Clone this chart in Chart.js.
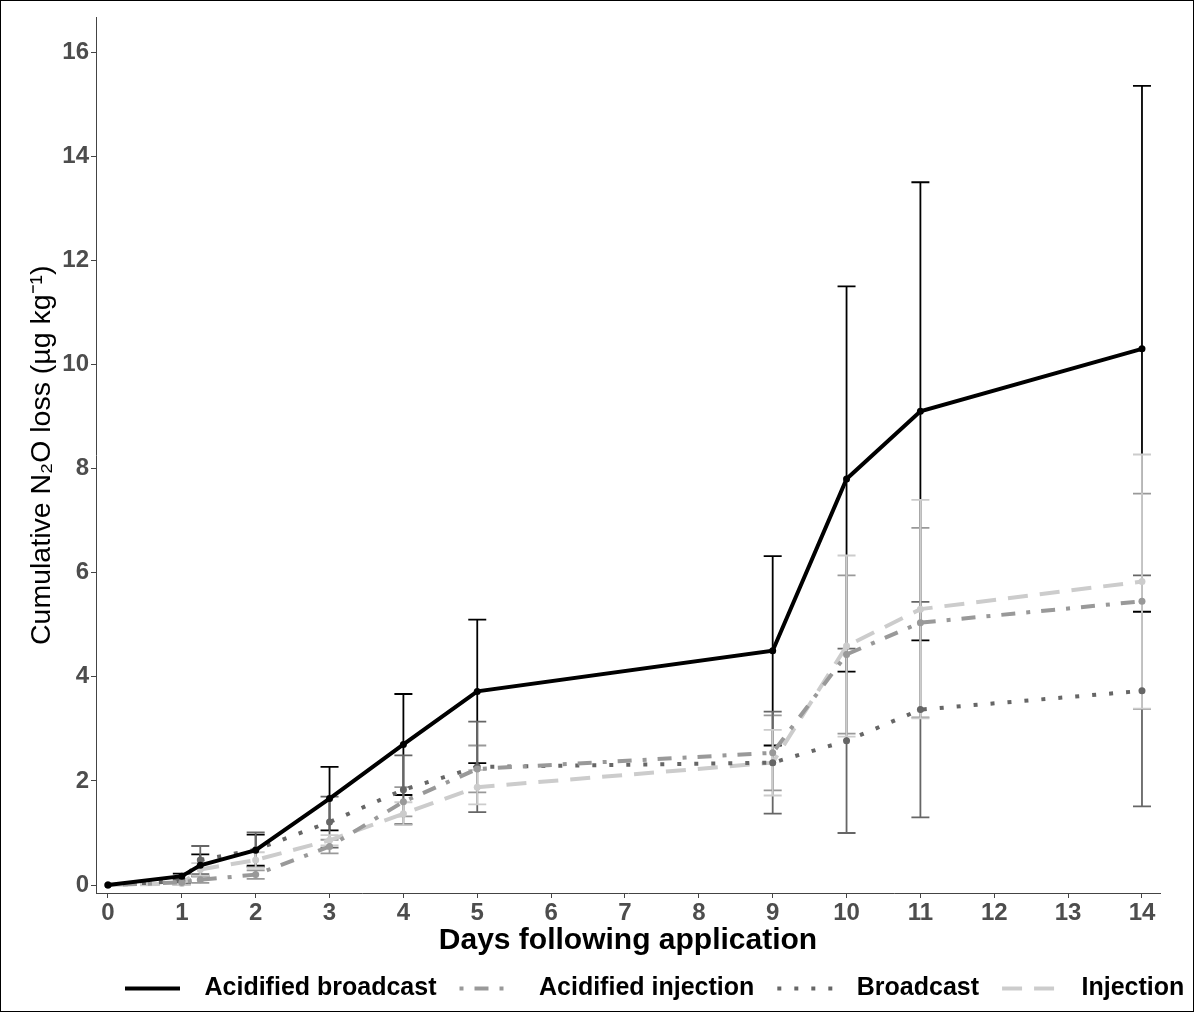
<!DOCTYPE html>
<html>
<head>
<meta charset="utf-8">
<script src="https://cdn.jsdelivr.net/npm/chart.js@4.4.1/dist/chart.umd.min.js"></script>
<style>
html,body{margin:0;padding:0;background:#fff;}
#wrap{width:1194px;height:1012px;box-sizing:border-box;border:1px solid #000;overflow:hidden;background:#fff;}
canvas{display:block;}
</style>
</head>
<body>
<div id="wrap"><canvas id="c" width="1192" height="1010"></canvas></div>
<script>
// ---------- data ----------
const days = [0, 1, 1.25, 2, 3, 4, 5, 9, 10, 11, 14];
const xTicks = [0, 1, 2, 3, 4, 5, 6, 7, 8, 9, 10, 11, 12, 13, 14];
const yTicks = [0, 2, 4, 6, 8, 10, 12, 14, 16];
const seriesNames = ['Acidified broadcast', 'Acidified injection', 'Broadcast', 'Injection'];

const acidBroadcast   = [0, 0.17, 0.38, 0.67, 1.66, 2.70, 3.72, 4.50, 7.80, 9.10, 10.30];
const acidBroadcastSE = [0, 0.05, 0.21, 0.30, 0.61, 0.97, 1.38, 1.82, 3.70, 4.40, 5.05];

const acidInjection   = [0, 0.05, 0.10, 0.20, 0.74, 1.60, 2.23, 2.54, 4.43, 5.04, 5.45];
const acidInjectionSE = [0, 0.03, 0.06, 0.08, 0.13, 0.28, 0.45, 0.72, 1.52, 1.82, 2.07];

const broadcast       = [0, 0.08, 0.48, 0.68, 1.21, 1.83, 2.27, 2.35, 2.77, 3.37, 3.73];
const broadcastSE     = [0, 0.04, 0.27, 0.33, 0.49, 0.66, 0.87, 0.98, 1.77, 2.07, 2.22];

const injection       = [0, 0.03, 0.30, 0.48, 0.86, 1.37, 1.88, 2.35, 4.59, 5.30, 5.83];
const injectionSE     = [0, 0.03, 0.12, 0.15, 0.10, 0.22, 0.33, 0.63, 1.74, 2.10, 2.44];

// ---------- styles ----------
const FONT = "'Liberation Sans', Arial, Helvetica, sans-serif";
const colors = ['#000000', '#999999', '#666666', '#cccccc'];
const dashes = [[], [4, 11, 14, 11], [4, 13], [20, 12]];
const values = [acidBroadcast, acidInjection, broadcast, injection];
const errors = [acidBroadcastSE, acidInjectionSE, broadcastSE, injectionSE];

const datasets = seriesNames.map((name, i) => ({
  label: name,
  data: days.map((d, j) => ({ x: d, y: values[i][j] })),
  err: errors[i],
  borderColor: colors[i],
  backgroundColor: colors[i],
  borderWidth: 4,
  borderDash: dashes[i],
  pointRadius: 3.5,
  pointBorderWidth: 0,
  pointBackgroundColor: colors[i],
  tension: 0,
  fill: false
}));

function legendSample(color, dash) {
  const c = document.createElement('canvas');
  c.width = 80; c.height = 10;
  const g = c.getContext('2d');
  g.strokeStyle = color; g.lineWidth = 4; g.setLineDash(dash);
  g.beginPath(); g.moveTo(13, 5); g.lineTo(68, 5); g.stroke();
  return c;
}

const errorBars = {
  id: 'errorBars',
  beforeDatasetsDraw(chart) {
    const { ctx, scales: { x, y } } = chart;
    ctx.save();
    chart.data.datasets.forEach((ds, i) => {
      if (chart.getDatasetMeta(i).hidden) return;
      ctx.strokeStyle = ds.borderColor;
      ctx.lineWidth = 1.8;
      ctx.setLineDash([]);
      ds.data.forEach((p, j) => {
        const e = ds.err[j];
        if (!e) return;
        const px = x.getPixelForValue(p.x);
        const yt = y.getPixelForValue(p.y + e);
        const yb = y.getPixelForValue(p.y - e);
        ctx.beginPath();
        ctx.moveTo(px, yt); ctx.lineTo(px, yb);
        ctx.moveTo(px - 9, yt); ctx.lineTo(px + 9, yt);
        ctx.moveTo(px - 9, yb); ctx.lineTo(px + 9, yb);
        ctx.stroke();
      });
    });
    ctx.restore();
  }
};

const legendShift = {
  id: 'legendShift',
  afterLayout(chart) {
    const l = chart.legend;
    if (!l) return;
    l.left = 101;
    l.right = 101 + 2000;
  }
};

new Chart(document.getElementById('c'), {
  type: 'line',
  data: { datasets },
  plugins: [errorBars, legendShift],
  options: {
    responsive: false,
    animation: false,
    devicePixelRatio: 1,
    layout: { padding: { top: 14, right: 33, left: 0, bottom: 0 } },
    plugins: {
      tooltip: { enabled: false },
      legend: {
        position: 'bottom',
        align: 'start',
        labels: {
          usePointStyle: true,
          pointStyleWidth: 80,
          boxHeight: 10,
          padding: 10,
          color: '#000',
          font: { family: FONT, size: 25, weight: 'bold' },
          generateLabels: (chart) => chart.data.datasets.map((ds, i) => ({
            text: ds.label,
            pointStyle: legendSample(ds.borderColor, ds.borderDash),
            fontColor: '#000',
            fillStyle: ds.borderColor,
            strokeStyle: ds.borderColor,
            lineWidth: 0,
            hidden: false,
            datasetIndex: i
          }))
        }
      }
    },
    scales: {
      x: {
        type: 'linear',
        min: -0.162,
        max: 14.244,
        afterBuildTicks: (s) => { s.ticks = xTicks.map(v => ({ value: v })); },
        afterFit: (s) => { s.height = 73; },
        ticks: {
          color: '#4d4d4d',
          padding: 1,
          autoSkip: false,
          maxRotation: 0,
          font: { family: FONT, size: 24, weight: 'bold' }
        },
        grid: { display: true, drawOnChartArea: false, drawTicks: true, tickLength: 5, color: '#444', lineWidth: 1 },
        border: { display: true, color: '#444', width: 1 },
        title: {
          display: true,
          text: 'Days following application',
          color: '#000',
          padding: { top: 0, bottom: 7 },
          font: { family: FONT, size: 30, weight: 'bold' }
        }
      },
      y: {
        type: 'linear',
        min: -0.153,
        max: 16.667,
        afterBuildTicks: (s) => { s.ticks = yTicks.map(v => ({ value: v })); },
        afterFit: (s) => { s.width = 95; },
        ticks: {
          color: '#4d4d4d',
          padding: 2,
          font: { family: FONT, size: 24, weight: 'bold' }
        },
        grid: { display: true, drawOnChartArea: false, drawTicks: true, tickLength: 5, color: '#444', lineWidth: 1 },
        border: { display: true, color: '#444', width: 1 },
        title: {
          display: true,
          text: 'Cumulative N\u2082O loss (\u00b5g kg\u207b\u00b9)',
          color: '#000',
          padding: { top: 24, bottom: 0 },
          font: { family: FONT, size: 28.5, weight: 'normal' }
        }
      }
    }
  }
});
</script>
</body>
</html>
